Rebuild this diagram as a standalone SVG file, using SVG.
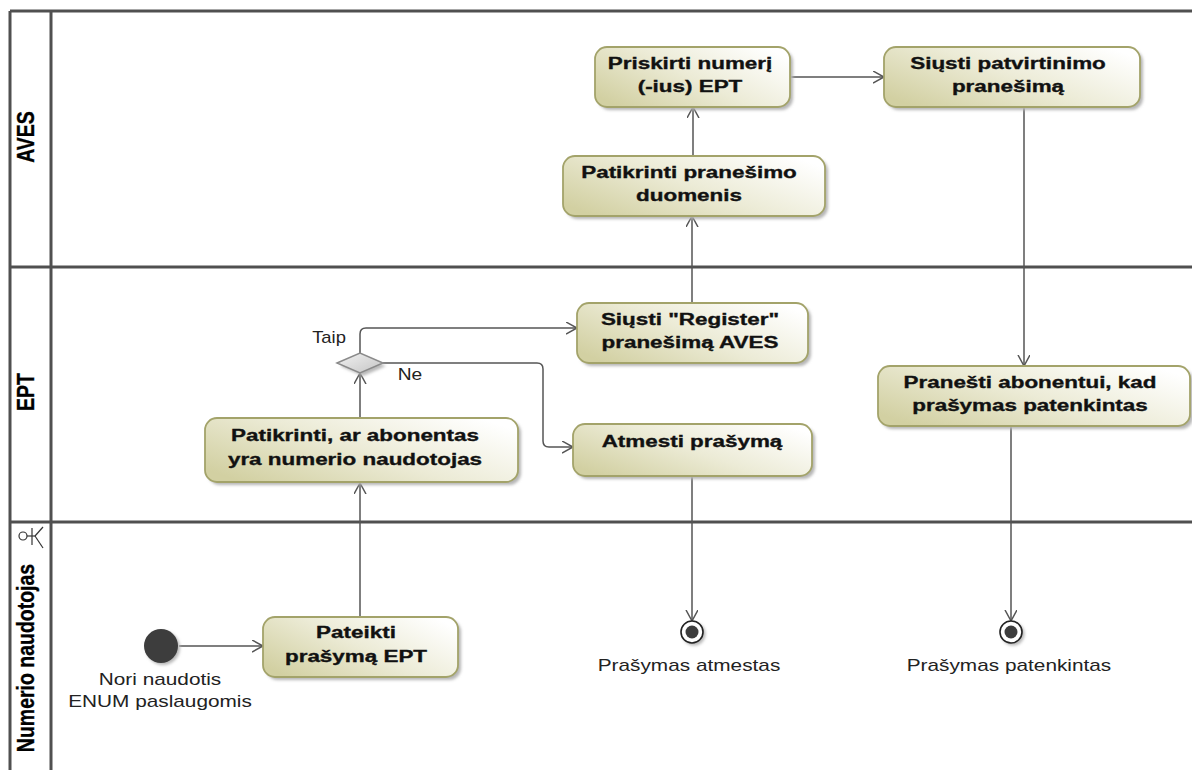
<svg xmlns="http://www.w3.org/2000/svg" width="1192" height="770" viewBox="0 0 1192 770">
<defs>
<linearGradient id="nodeFill" x1="0" y1="0.8" x2="1" y2="0.2">
<stop offset="0" stop-color="#d2d0a2"/>
<stop offset="0.5" stop-color="#ecebd6"/>
<stop offset="1" stop-color="#ffffff"/>
</linearGradient>
<linearGradient id="decFill" x1="0" y1="0" x2="1" y2="1">
<stop offset="0" stop-color="#f2f2f2"/>
<stop offset="1" stop-color="#c4c4c4"/>
</linearGradient>
<filter id="blur" x="-10%" y="-10%" width="130%" height="130%">
<feGaussianBlur stdDeviation="1.5"/>
</filter>
<marker id="arr" markerUnits="userSpaceOnUse" markerWidth="14" markerHeight="14" refX="11" refY="6" orient="auto">
<path d="M0,0 L11,6 L0,12" fill="none" stroke="#555" stroke-width="1.5"/>
</marker>
<style>
.lane{stroke:#505050;stroke-width:3;fill:none}
.lt{font-family:"Liberation Sans",Arial,sans-serif;font-weight:bold;font-size:19.5px;fill:#000;stroke:#000;stroke-width:0.3;text-anchor:middle}
.node{fill:url(#nodeFill);stroke:#a3a36a;stroke-width:1.8}
.shadow{fill:#b5b5b5;filter:url(#blur)}
.nt{font-family:"Liberation Sans",Arial,sans-serif;font-weight:bold;font-size:17px;fill:#111;stroke:#111;stroke-width:0.35;text-anchor:middle}
.lb{font-family:"Liberation Sans",Arial,sans-serif;font-size:16px;fill:#222;text-anchor:middle}
.edge{stroke:#555;stroke-width:1.5;fill:none;marker-end:url(#arr)}
.actor{stroke:#333;stroke-width:1.2;fill:none}
</style>
</defs>
<rect x="0" y="0" width="1192" height="770" fill="#ffffff"/>

<g id="lanes">
<line class="lane" x1="10" y1="11" x2="1192" y2="11"/>
<line class="lane" x1="10" y1="11" x2="10" y2="770"/>
<line class="lane" x1="51" y1="11" x2="51" y2="770"/>
<line class="lane" x1="10" y1="267" x2="1192" y2="267"/>
<line class="lane" x1="10" y1="522" x2="1192" y2="522"/>
<text class="lt" transform="translate(34,137) scale(1.2,1) rotate(-90)">AVES</text>
<text class="lt" transform="translate(34,392) scale(1.2,1) rotate(-90)">EPT</text>
<text class="lt" transform="translate(34,658) scale(1.2,1) rotate(-90)">Numerio naudotojas</text>
<g class="actor">
<circle cx="23" cy="536" r="4"/>
<line x1="27" y1="536" x2="35" y2="536"/>
<line x1="32" y1="528" x2="32" y2="545"/>
<line x1="35" y1="536" x2="43" y2="527"/>
<line x1="35" y1="536" x2="43" y2="548"/>
</g>
</g>

<g id="connectors">
<line class="edge" x1="179" y1="646" x2="263" y2="646"/>
<line class="edge" x1="360" y1="617" x2="360" y2="483"/>
<line class="edge" x1="360" y1="418" x2="360" y2="373"/>
<path class="edge" d="M360,353 V334 Q360,328 366,328 H577"/>
<path class="edge" d="M383,363 H537 Q543,363 543,369 V441 Q543,447 549,447 H573"/>
<line class="edge" x1="692" y1="303" x2="692" y2="216"/>
<line class="edge" x1="693" y1="156" x2="693" y2="107"/>
<line class="edge" x1="790" y1="77" x2="884" y2="77"/>
<line class="edge" x1="1024" y1="107" x2="1024" y2="366"/>
<line class="edge" x1="1011" y1="426" x2="1011" y2="621"/>
<line class="edge" x1="692" y1="476" x2="692" y2="621"/>
<text class="lb" transform="translate(329,343) scale(1.15,1)">Taip</text>
<text class="lb" transform="translate(410,380) scale(1.2,1)">Ne</text>
</g>

<g id="initial">
<circle cx="163" cy="648" r="17" fill="#b8b8b8" filter="url(#blur)"/>
<circle cx="161" cy="646" r="17" fill="#3d3d3d"/>
<text class="lb" transform="translate(160,0) scale(1.3,1)"><tspan x="0" y="685">Nori naudotis</tspan><tspan x="0" y="707">ENUM paslaugomis</tspan></text>
</g>

<g id="n_pateikti">
<rect class="shadow" x="266" y="620" width="195" height="60" rx="12"/>
<rect class="node" x="263" y="617" width="195" height="60" rx="12"/>
<text class="nt" transform="translate(356,0) scale(1.32,1)"><tspan x="0" y="638">Pateikti</tspan><tspan x="0" y="662">prašymą EPT</tspan></text>
</g>

<g id="n_patikrinti_ar">
<rect class="shadow" x="208" y="421" width="313" height="64" rx="12"/>
<rect class="node" x="205" y="418" width="313" height="64" rx="12"/>
<text class="nt" transform="translate(355,0) scale(1.32,1)"><tspan x="0" y="441">Patikrinti, ar abonentas</tspan><tspan x="0" y="465">yra numerio naudotojas</tspan></text>
</g>

<g id="decision">
<polygon points="340,366 363,356 386,366 363,376" fill="#b8b8b8" filter="url(#blur)"/>
<polygon points="337,363 360,353 383,363 360,373" fill="url(#decFill)" stroke="#8a8a8a" stroke-width="1.5"/>
</g>

<g id="n_register">
<rect class="shadow" x="580" y="306" width="231" height="60" rx="12"/>
<rect class="node" x="577" y="303" width="231" height="60" rx="12"/>
<text class="nt" transform="translate(690,0) scale(1.32,1)"><tspan x="0" y="325">Siųsti "Register"</tspan><tspan x="0" y="348">pranešimą AVES</tspan></text>
</g>

<g id="n_atmesti">
<rect class="shadow" x="576" y="427" width="239" height="52" rx="12"/>
<rect class="node" x="573" y="424" width="239" height="52" rx="12"/>
<text class="nt" transform="translate(692,0) scale(1.32,1)"><tspan x="0" y="447">Atmesti prašymą</tspan></text>
</g>

<g id="n_patikrinti_pran">
<rect class="shadow" x="566" y="159" width="262" height="60" rx="12"/>
<rect class="node" x="563" y="156" width="262" height="60" rx="12"/>
<text class="nt" transform="translate(689,0) scale(1.32,1)"><tspan x="0" y="178">Patikrinti pranešimo</tspan><tspan x="0" y="201">duomenis</tspan></text>
</g>

<g id="n_priskirti">
<rect class="shadow" x="598" y="50" width="195" height="60" rx="12"/>
<rect class="node" x="595" y="47" width="195" height="60" rx="12"/>
<text class="nt" transform="translate(690,0) scale(1.32,1)"><tspan x="0" y="69">Priskirti numerį</tspan><tspan x="0" y="92">(-ius) EPT</tspan></text>
</g>

<g id="n_siusti_patv">
<rect class="shadow" x="887" y="50" width="256" height="60" rx="12"/>
<rect class="node" x="884" y="47" width="256" height="60" rx="12"/>
<text class="nt" transform="translate(1008,0) scale(1.32,1)"><tspan x="0" y="69">Siųsti patvirtinimo</tspan><tspan x="0" y="92">pranešimą</tspan></text>
</g>

<g id="n_pranesti">
<rect class="shadow" x="881" y="369" width="312" height="60" rx="12"/>
<rect class="node" x="878" y="366" width="312" height="60" rx="12"/>
<text class="nt" transform="translate(1030,0) scale(1.32,1)"><tspan x="0" y="388">Pranešti abonentui, kad</tspan><tspan x="0" y="411">prašymas patenkintas</tspan></text>
</g>

<g id="final_atmestas">
<circle cx="694" cy="634" r="11.5" fill="#b8b8b8" filter="url(#blur)"/>
<circle cx="692" cy="632" r="11" fill="#ffffff" stroke="#222" stroke-width="1.6"/>
<circle cx="692" cy="632" r="6.5" fill="#3d3d3d"/>
<text class="lb" transform="translate(689,671) scale(1.3,1)">Prašymas atmestas</text>
</g>

<g id="final_patenkintas">
<circle cx="1013" cy="634" r="11.5" fill="#b8b8b8" filter="url(#blur)"/>
<circle cx="1011" cy="632" r="11" fill="#ffffff" stroke="#222" stroke-width="1.6"/>
<circle cx="1011" cy="632" r="6.5" fill="#3d3d3d"/>
<text class="lb" transform="translate(1009,671) scale(1.3,1)">Prašymas patenkintas</text>
</g>
</svg>
